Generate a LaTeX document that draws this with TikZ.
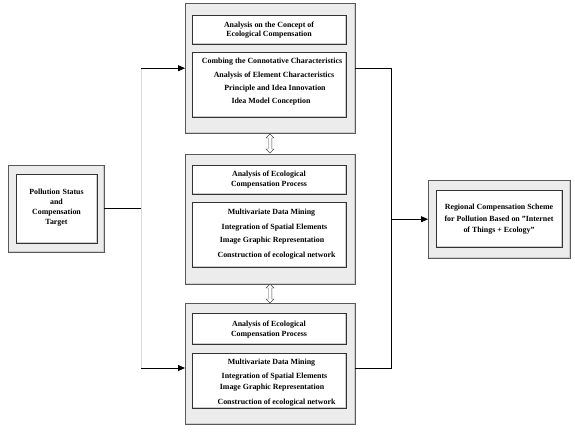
\documentclass[tikz,border=0pt]{standalone}
\usepackage{fontspec}
\setmainfont{Liberation Serif}
\usetikzlibrary{arrows.meta,shapes.arrows}

\tikzset{
  bevel/.style={path picture={\draw[gray!40, line width=2.2pt]
      (path picture bounding box.north east) -- (path picture bounding box.south east)
      -- (path picture bounding box.south west);}},
  framebox/.style={draw=black!65, fill=gray!15, bevel, inner sep=0pt, anchor=north west},
  itembox/.style={draw=black!80, fill=white, bevel, inner sep=0pt, anchor=north west},
  lbl/.style={font=\fontsize{7.9}{9.5}\selectfont\bfseries, align=center, inner sep=0pt},
  link/.style={black, line width=0.8pt},
  guide/.style={gray!30, line width=0.8pt},
  tip/.style={-{Triangle[length=7pt,width=6pt]}},
  dblarrow/.style={double arrow, draw=black!70, fill=white, shape border rotate=90,
      minimum height=19pt, minimum width=8pt, inner sep=1.6pt, double arrow head extend=2.2pt}
}

\begin{document}
\begin{tikzpicture}[x=1pt,y=-1pt]
  \useasboundingbox (0,0) rectangle (575,437);

  % source box
  \node[framebox, minimum width=96, minimum height=87] (src) at (8,165) {};
  \node[itembox, minimum width=81, minimum height=69] (srcin) at (16,174) {};
  \node[lbl, text width=78, font=\fontsize{7.9}{10}\selectfont\bfseries] (srctxt) at (56.5,208)
    {Pollution Status\\and\\Compensation\\Target};

  % first stage
  \node[framebox, minimum width=170, minimum height=130] (sys1) at (185,3) {};
  \node[itembox, minimum width=154, minimum height=29] (sys1a) at (192,15) {};
  \node[itembox, minimum width=154, minimum height=65] (sys1b) at (192,52) {};
  \node[lbl] (t1a) at (269,30) {Analysis on the Concept of\\Ecological Compensation};
  \node[lbl] (t1b1) at (272,62) {Combing the Connotative Characteristics};
  \node[lbl] (t1b2) at (274,76) {Analysis of Element Characteristics};
  \node[lbl] (t1b3) at (275,89) {Principle and Idea Innovation};
  \node[lbl] (t1b4) at (271,102) {Idea Model Conception};

  % second stage
  \node[framebox, minimum width=170, minimum height=130] (sys2) at (185,154) {};
  \node[itembox, minimum width=154, minimum height=29] (sys2a) at (192,165) {};
  \node[itembox, minimum width=154, minimum height=65] (sys2b) at (192,202) {};
  \node[lbl] (t2a) at (269,179.5) {Analysis of Ecological\\Compensation Process};
  \node[lbl] (t2b1) at (271.5,213) {Multivariate Data Mining};
  \node[lbl] (t2b2) at (274.5,228) {Integration of Spatial Elements};
  \node[lbl] (t2b3) at (272,241) {Image Graphic Representation};
  \node[lbl] (t2b4) at (276.5,256) {Construction of ecological network};

  % third stage
  \node[framebox, minimum width=170, minimum height=121] (sys3) at (185,303) {};
  \node[itembox, minimum width=154, minimum height=31] (sys3a) at (192,313) {};
  \node[itembox, minimum width=154, minimum height=55] (sys3b) at (192,353) {};
  \node[lbl] (t3a) at (269,329.5) {Analysis of Ecological\\Compensation Process};
  \node[lbl] (t3b1) at (271.5,363) {Multivariate Data Mining};
  \node[lbl] (t3b2) at (274.5,377) {Integration of Spatial Elements};
  \node[lbl] (t3b3) at (272,388) {Image Graphic Representation};
  \node[lbl] (t3b4) at (276.5,403) {Construction of ecological network};

  % result box
  \node[framebox, minimum width=142, minimum height=78] (res) at (428,180) {};
  \node[itembox, minimum width=126, minimum height=57] (resin) at (436,190) {};
  \node[lbl, font=\fontsize{7.9}{11.5}\selectfont\bfseries] (restxt) at (499,219.5)
    {Regional Compensation Scheme\\for Pollution Based on "Internet\\of Things + Ecology"};

  % two-way links between stages
  \node[dblarrow] (da1) at (270,143.5) {};
  \node[dblarrow] (da2) at (270,293.5) {};

  % connectors
  \coordinate (jl) at (141,0);
  \coordinate (jr) at (391,0);
  \coordinate (in3) at (185,368);
  \draw[link] (src.east) -- (src.east -| jl);
  \draw[guide] (jl |- sys1.west) -- (jl |- in3);
  \draw[link,tip] (jl |- sys1.west) -- (sys1.west);
  \draw[link,tip] (jl |- in3) -- (in3);
  \draw[link] (sys1.east) -| (jr |- in3) -- (in3 -| sys3.east);
  \draw[link,tip] (jr |- res.west) -- (res.west);
\end{tikzpicture}
\end{document}
